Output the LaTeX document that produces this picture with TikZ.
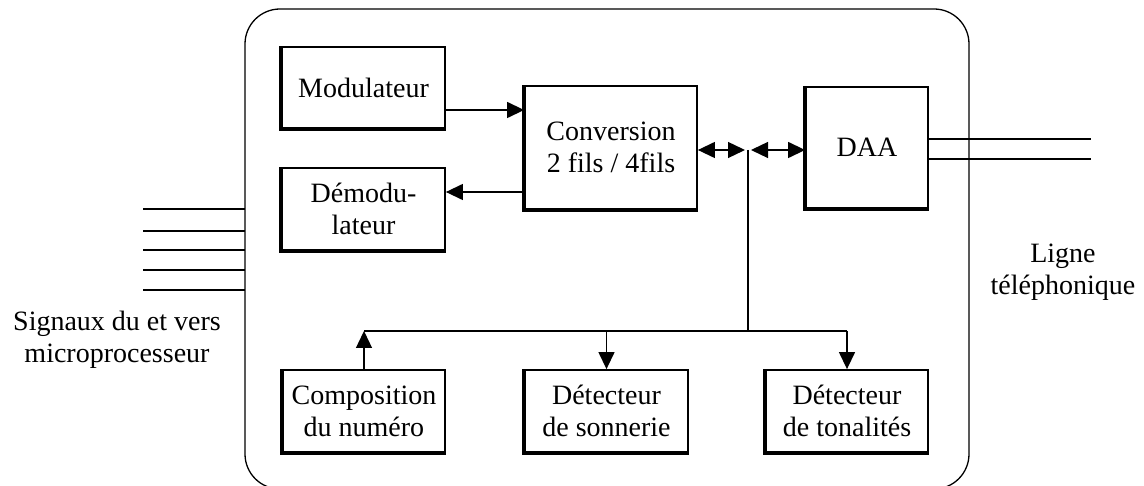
\documentclass[tikz,border=0pt]{standalone}
\usepackage{fontspec}
\setmainfont{Liberation Serif}
\usetikzlibrary{arrows.meta}

\tikzset{
  blk/.style={draw, line width=1.8pt, inner sep=0pt, align=center,
    font=\fontsize{28}{32}\selectfont},
  lbl/.style={align=center, font=\fontsize{28}{32}\selectfont},
  wire/.style={line width=1.3pt},
  arr/.style={wire, -{Triangle[length=17pt,width=16pt]}},
  darr/.style={wire, {Triangle[length=17pt,width=16pt]}-{Triangle[length=17pt,width=16pt]}}
}

\begin{document}
\begin{tikzpicture}[x=1pt, y=-1pt]

  \useasboundingbox (0,0) rectangle (1144,486);
  \clip (0,0) rectangle (1144,486);

  % Boitier du modem
  \node[draw, line width=1.3pt, rounded corners=35pt, minimum width=724pt,
    minimum height=480pt] (modem) at (607,249) {};

  % Blocs
  \node[blk, minimum width=163pt, minimum height=81pt] (mod) at (363.5,87.5) {Modulateur};
  \node[blk, minimum width=163pt, minimum height=82pt] (demod) at (363.5,209) {Démodu-\\lateur};
  \node[blk, minimum width=172pt, minimum height=123pt] (conv) at (611,147.5) {Conversion\\2 fils / 4fils};
  \node[blk, minimum width=122pt, minimum height=121pt] (daa) at (867,147.5) {DAA};
  \node[blk, minimum width=162pt, minimum height=82pt] (comp) at (364,411) {Composition\\du numéro};
  \node[blk, minimum width=163pt, minimum height=82pt] (sonn) at (606.5,411) {Détecteur\\de sonnerie};
  \node[blk, minimum width=162pt, minimum height=82pt] (tona) at (847,411) {Détecteur\\de tonalités};

  % Ombre des blocs
  \foreach \n in {mod, demod, conv, daa, comp, sonn, tona} {
    \draw[line width=3.4pt] (\n.north west) -- (\n.south west) -- (\n.south east);
  }

  % Liaisons
  \coordinate (mOut) at ([yshift=-22.5pt]mod.east);
  \coordinate (dIn) at ([yshift=17pt]demod.east);
  \coordinate (jn) at (748,150);
  \coordinate (bus) at (748,331);

  \draw[arr] (mOut) -- (mOut -| conv.west);
  \draw[arr] (conv.west |- dIn) -- (dIn);
  \draw[darr, shorten >=3pt] (conv.east |- jn) -- (jn);
  \draw[darr, shorten <=3pt] (jn) -- (daa.west |- jn);
  \draw[wire] (jn) -- (bus);
  \draw[wire] (comp.north |- bus) -- (tona.north |- bus);
  \draw[arr] (comp.north) -- (comp.north |- bus);
  \draw[arr] (sonn.north |- bus) -- (sonn.north);
  \draw[arr] (tona.north |- bus) -- (tona.north);

  % Signaux vers le microprocesseur
  \foreach \y in {209, 231, 250, 270, 290} {
    \draw[wire] (143,\y) -- (245,\y);
  }
  \node[lbl] (signaux) at (117,340) {Signaux du et vers\\microprocesseur};

  % Ligne telephonique
  \draw[wire] ([yshift=8.5pt]daa.east) -- ++(162,0);
  \draw[wire] ([yshift=-11.5pt]daa.east) -- ++(162,0);
  \node[lbl] (ligne) at (1063,272) {Ligne\\téléphonique};

\end{tikzpicture}
\end{document}
